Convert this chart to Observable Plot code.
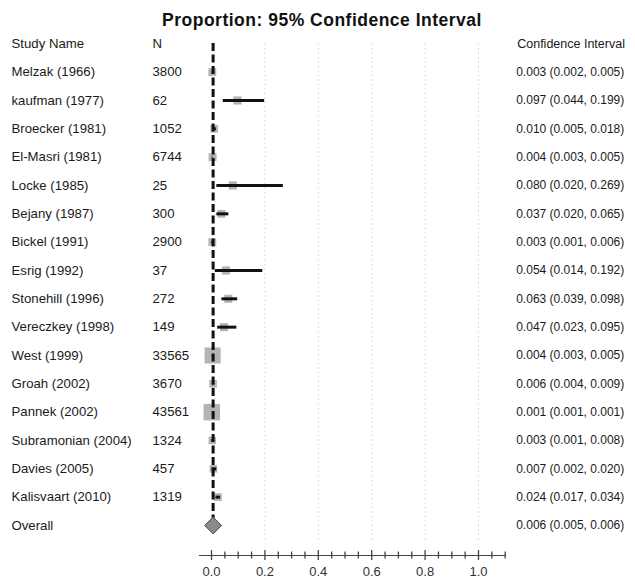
<!DOCTYPE html>
<html><head><meta charset="utf-8">
<script src="https://cdn.jsdelivr.net/npm/d3@7"></script>
<script src="https://cdn.jsdelivr.net/npm/@observablehq/plot@0.6"></script>
<style>
body{margin:0;background:#fff;font-family:"Liberation Sans",Arial,sans-serif;}
#wrap{position:relative;width:635px;height:579px;}
#wrap svg{position:absolute;left:0;top:0;}
#title{position:absolute;top:10px;left:0;width:635px;text-align:center;font-weight:bold;font-size:17.5px;letter-spacing:0.5px;color:#111;padding-left:9px;box-sizing:border-box;z-index:2;line-height:20px}
</style></head><body><div id="wrap"><div id="title">Proportion: 95% Confidence Interval</div></div>
<script>
const studies = ["Melzak (1966)","kaufman (1977)","Broecker (1981)","El-Masri (1981)","Locke (1985)","Bejany (1987)","Bickel (1991)","Esrig (1992)","Stonehill (1996)","Vereczkey (1998)","West (1999)","Groah (2002)","Pannek (2002)","Subramonian (2004)","Davies (2005)","Kalisvaart (2010)"];
const sampleSizes = [3800,62,1052,6744,25,300,2900,37,272,149,33565,3670,43561,1324,457,1319];
const estimates = [0.003,0.097,0.010,0.004,0.080,0.037,0.003,0.054,0.063,0.047,0.004,0.006,0.001,0.003,0.007,0.024];
const lower = [0.002,0.044,0.005,0.003,0.020,0.020,0.001,0.014,0.039,0.023,0.003,0.004,0.001,0.001,0.002,0.017];
const upper = [0.005,0.199,0.018,0.005,0.269,0.065,0.006,0.192,0.098,0.095,0.005,0.009,0.001,0.008,0.020,0.034];
const weights = [4.5,5.0,4.2,4.7,5.0,4.5,4.5,5.0,4.8,4.8,19,4.2,20,4.2,4.2,4.4];
const overallLabel = "Overall";
const overallEst = 0.006, overallLo = 0.005, overallHi = 0.006;
const headers = ["Study Name","N","Confidence Interval"];
const majorTicks = [0,0.2,0.4,0.6,0.8,1.0];
const gridTicks = [0.2,0.4,0.6,0.8,1.0];
const minorTicks = [0.05,0.1,0.15,0.25,0.3,0.35,0.45,0.5,0.55,0.65,0.7,0.75,0.85,0.9,0.95,1.05,1.1];

const fmt = v => v.toFixed(3);
const rows = studies.map((s,i)=>({name:s, n:sampleSizes[i], est:estimates[i], lo:lower[i], hi:upper[i], w:weights[i], row:i}));
const overall = [{name:overallLabel, est:overallEst, lo:overallLo, hi:overallHi, row:studies.length}];
const allRows = rows.concat(overall);
const header = [{row:-1}];
const txt = "#1a1a1a";

const chart = Plot.plot({
  width:635, height:579,
  marginLeft:199, marginRight:130.3, marginTop:40.5, marginBottom:24,
  x:{domain:[-0.045,1.1], axis:null},
  y:{domain:[-1.1,17.06], reverse:true, axis:null},
  r:{type:"sqrt", domain:[0,20], range:[0,9.3]},
  style:{fontFamily:"'Liberation Sans', Arial, sans-serif", color:txt},
  marks:[
    Plot.ruleX(gridTicks, {x:d=>d, stroke:"#bdbdbd", strokeDasharray:"1,3.5", strokeWidth:1, insetTop:3, insetBottom:12}),
    Plot.dot(rows, {x:"est", y:"row", r:"w", symbol:"square", fill:"#b4b4b4", stroke:null}),
    Plot.ruleY(rows, {y:"row", x1:"lo", x2:"hi", stroke:"#111", strokeWidth:3}),
    Plot.ruleX(overall, {x:"est", stroke:"#111", strokeWidth:3, strokeDasharray:"8,3.5", insetTop:2.5, insetBottom:28}),
    Plot.dot(overall, {x:"est", y:"row", r:7.6, symbol:"diamond2", fill:"#8a8a8a", stroke:"#4a4a4a", strokeWidth:1}),
    // text columns
    Plot.text(header, {y:"row", text:()=>headers[0], frameAnchor:"left", dx:-188, textAnchor:"start", fontSize:13.2, fill:txt}),
    Plot.text(header, {y:"row", text:()=>headers[1], frameAnchor:"left", dx:-47, textAnchor:"start", fontSize:13.2, fill:txt}),
    Plot.text(header, {y:"row", text:()=>headers[2], frameAnchor:"right", dx:12, textAnchor:"start", fontSize:12.5, fill:txt}),
    Plot.text(allRows, {y:"row", text:"name", frameAnchor:"left", dx:-188, textAnchor:"start", fontSize:13.2, fill:txt}),
    Plot.text(rows, {y:"row", text:d=>String(d.n), frameAnchor:"left", dx:-47, textAnchor:"start", fontSize:13.2, fill:txt}),
    Plot.text(allRows, {y:"row", text:d=>`${fmt(d.est)} (${fmt(d.lo)}, ${fmt(d.hi)})`, frameAnchor:"right", dx:11, textAnchor:"start", fontSize:12, fill:txt}),
    // axis
    Plot.frame({anchor:"bottom", stroke:"#444", strokeWidth:1.2}),
    Plot.axisX({ticks:majorTicks, tickSize:10, dy:-5, tickFormat:()=>"", stroke:"#444", strokeWidth:1.3}),
    Plot.axisX({ticks:minorTicks, tickSize:7, dy:-3.5, tickFormat:()=>"", stroke:"#444", strokeWidth:1.3}),
    Plot.axisX({ticks:majorTicks, tickSize:0, tickPadding:11, tickFormat:d3.format(".1f"), fontSize:13, color:"#333", style:{letterSpacing:"0.8px"}})
  ]
});
document.getElementById("wrap").appendChild(chart);
</script>
</body></html>
